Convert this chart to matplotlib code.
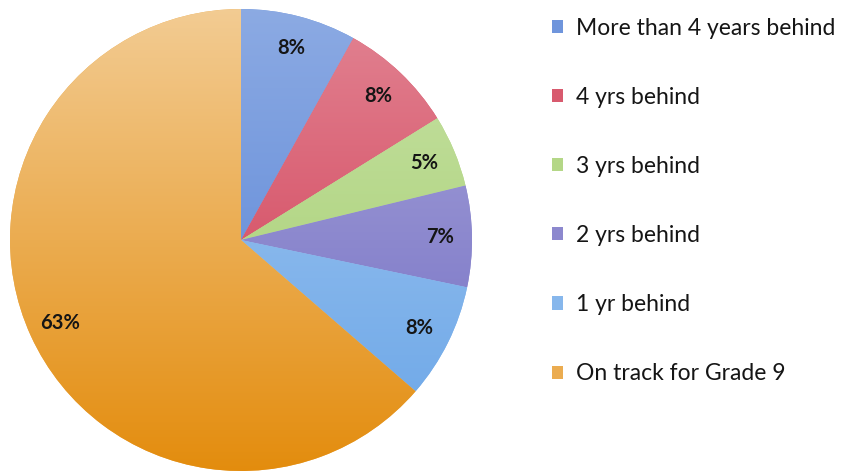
import matplotlib
matplotlib.use("Agg")
import matplotlib.pyplot as plt
import numpy as np
from matplotlib.colors import to_rgb

categories = ["More than 4 years behind", "4 yrs behind", "3 yrs behind",
              "2 yrs behind", "1 yr behind", "On track for Grade 9"]
values = [8, 8, 5, 7, 8, 63]
labels = ["8%", "8%", "5%", "7%", "8%", "63%"]
colors = ["#6f95dc", "#d85a6e", "#b4d787", "#8c88ce", "#87b7ec", "#ebac50"]
shade = [0.2, 0.25, 0.25, 0.25, 0.25, 0.38]

plt.rcParams['font.family'] = ['Lato', 'DejaVu Sans']

W, H = 859, 471
fig = plt.figure(figsize=(W / 100, H / 100), dpi=100)
cx, cy, r = 241, 240, 231
ax = fig.add_axes([(cx - r) / W, (H - cy - r) / H, 2 * r / W, 2 * r / H])
ax.set_xlim(-1, 1)
ax.set_ylim(-1, 1)
ax.set_aspect('equal')
ax.axis('off')

wedges, _ = ax.pie(values, colors=colors, startangle=90, counterclock=False,
                   radius=1, wedgeprops=dict(linewidth=0, edgecolor='none'))

# vertical shading (lighter at top, deeper at bottom) clipped to each wedge
for w, c, s in zip(wedges, colors, shade):
    base = np.array(to_rgb(c))
    top = base + (1 - base) * s
    bot = np.clip(base - (top - base), 0, 1)
    t = np.linspace(0, 1, 256)[:, None]
    grad = top[None, :] * (1 - t) + bot[None, :] * t
    img = np.repeat(grad[:, None, :], 2, axis=1)
    im = ax.imshow(img, extent=(-1, 1, -1, 1), origin='upper', aspect='auto',
                   zorder=w.get_zorder() + 0.1, interpolation='bilinear')
    im.set_clip_path(w)
ax.set_xlim(-1, 1)
ax.set_ylim(-1, 1)

# percentage labels
tot = sum(values)
ang = 90.0
for v, lab in zip(values, labels):
    span = 360.0 * v / tot
    mid = np.deg2rad(ang - span / 2)
    ang -= span
    ax.text(0.86 * np.cos(mid), 0.86 * np.sin(mid), lab, ha='center', va='center',
            fontsize=14.5, fontweight='bold', color='#151515', zorder=10)

leg = fig.legend(wedges, categories, loc='upper left',
                 bbox_to_anchor=(531 / W, 1 + 3 / H), frameon=False,
                 fontsize=16.5, handlelength=0.5, handleheight=0.5,
                 handletextpad=0.55, labelspacing=2.1, labelcolor='#151515')

fig.savefig("out.png", dpi=100)
